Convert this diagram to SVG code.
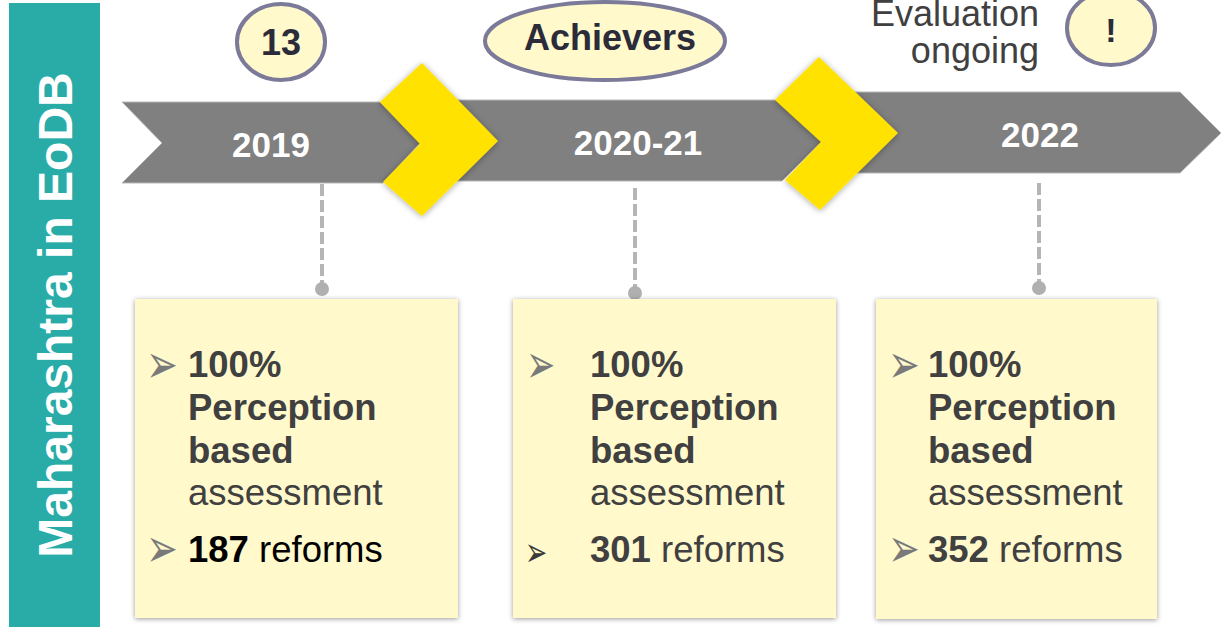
<svg xmlns="http://www.w3.org/2000/svg" width="1225" height="627" viewBox="0 0 1225 627">
<style>
.arrow{fill:#808080;stroke:#B8B8B8;stroke-width:1}
.chev{fill:#FFE200;filter:url(#sh)}
.badge{fill:#FFF9CC;stroke:#7B7A98;stroke-width:4}
.badgeT{font-family:"Liberation Sans",Arial,sans-serif;font-weight:bold;fill:#2B2B3A;text-anchor:middle}
.year{font-family:"Liberation Sans",Arial,sans-serif;font-weight:bold;font-size:35px;fill:#FFFFFF;text-anchor:middle}
.box{fill:#FFF9CC;filter:url(#bsh)}
.bt{font-family:"Liberation Sans",Arial,sans-serif;font-size:36.5px;fill:#404040}
.b{font-weight:bold}
.bul{font-family:"DejaVu Sans",sans-serif;fill:#7A7A7A;font-size:38px}
.dash{stroke:#B5B5B5;stroke-width:4;stroke-dasharray:12 4;fill:none}
.dot{fill:#B0B0B0}
</style>
<defs>
<filter id="sh" x="-20%" y="-20%" width="140%" height="140%">
<feDropShadow dx="0" dy="1" stdDeviation="3" flood-color="#000" flood-opacity="0.35"/>
</filter>
<filter id="bsh" x="-10%" y="-10%" width="120%" height="120%">
<feDropShadow dx="0" dy="1" stdDeviation="2.5" flood-color="#000" flood-opacity="0.4"/>
</filter>
</defs>
<g id="sidebar">
<rect x="9" y="3" width="91" height="624" fill="#29ACA8"/>
<text transform="translate(72,315) rotate(-90)" font-family="Liberation Sans,Arial,sans-serif" font-weight="bold" font-size="48" fill="#FFFFFF" text-anchor="middle">Maharashtra in EoDB</text>
</g>
<g id="timeline">
<polygon class="arrow" points="800,92 1180,92 1221,133 1180,173 800,173 840,133"/>
<polygon class="arrow" points="400,100 782,100 822,141 782,181 400,181 440,141"/>
<polygon class="arrow" points="122,102 380,102 420,143 383,183 122,183 162,143"/>
<polygon class="chev" points="380,102 422,63 498,141 422,216 383,182 420,144"/>
<polygon class="chev" points="775,100 819,57 898,133 820,210 785,180 821,142"/>
</g>
<g id="year-2019"><text class="year" x="271" y="157">2019</text></g>
<g id="year-2020-21"><text class="year" x="638" y="155">2020-21</text></g>
<g id="year-2022"><text class="year" x="1040" y="147">2022</text></g>
<g id="badge-13">
<ellipse class="badge" cx="281" cy="42" rx="44" ry="38"/>
<text class="badgeT" x="281" y="55" font-size="36">13</text>
</g>
<g id="badge-achievers">
<ellipse class="badge" cx="605" cy="41" rx="120" ry="39"/>
<text class="badgeT" x="610" y="50" font-size="36">Achievers</text>
</g>
<g id="badge-evaluation">
<ellipse class="badge" cx="1111" cy="28" rx="44" ry="37"/>
<text class="badgeT" x="1111" y="42" font-size="34">!</text>
<text font-family="Liberation Sans,Arial,sans-serif" font-size="36" fill="#404040" text-anchor="end"><tspan x="1039" y="26">Evaluation</tspan><tspan x="1039" y="63">ongoing</tspan></text>
</g>
<g id="connectors">
<line class="dash" x1="322" y1="184" x2="322" y2="286"/>
<circle class="dot" cx="322" cy="289" r="7"/>
<line class="dash" x1="635" y1="188" x2="635" y2="290"/>
<circle class="dot" cx="635" cy="293" r="7"/>
<line class="dash" x1="1039" y1="183" x2="1039" y2="285"/>
<circle class="dot" cx="1039" cy="288" r="7"/>
</g>
<g id="box-2019">
<rect class="box" x="135" y="299" width="323" height="319"/>
<text class="bul" transform="translate(146,383) scale(1,1.45)">➢</text>
<text class="bt b" x="188" y="377">100%</text>
<text class="bt b" x="188" y="420">Perception</text>
<text class="bt b" x="188" y="463">based</text>
<text class="bt" x="188" y="505">assessment</text>
<text class="bul" transform="translate(146,567) scale(1,1.45)">➢</text>
<text class="bt" x="188" y="562" style="fill:#000000"><tspan class="b">187</tspan> reforms</text>
</g>
<g id="box-2020-21">
<rect class="box" x="513" y="299" width="323" height="319"/>
<text class="bul" transform="translate(526,383) scale(0.92,1.45)">➢</text>
<text class="bt b" x="590" y="377">100%</text>
<text class="bt b" x="590" y="420">Perception</text>
<text class="bt b" x="590" y="463">based</text>
<text class="bt" x="590" y="505">assessment</text>
<text class="bul" transform="translate(525,566) scale(0.7,1.07)" style="fill:#3A3A3A">➢</text>
<text class="bt" x="590" y="562"><tspan class="b">301</tspan> reforms</text>
</g>
<g id="box-2022">
<rect class="box" x="876" y="299" width="281" height="320"/>
<text class="bul" transform="translate(888,383) scale(1,1.45)">➢</text>
<text class="bt b" x="928" y="377">100%</text>
<text class="bt b" x="928" y="420">Perception</text>
<text class="bt b" x="928" y="463">based</text>
<text class="bt" x="928" y="505">assessment</text>
<text class="bul" transform="translate(888,567) scale(1,1.45)">➢</text>
<text class="bt" x="928" y="562"><tspan class="b">352</tspan> reforms</text>
</g>
</svg>
